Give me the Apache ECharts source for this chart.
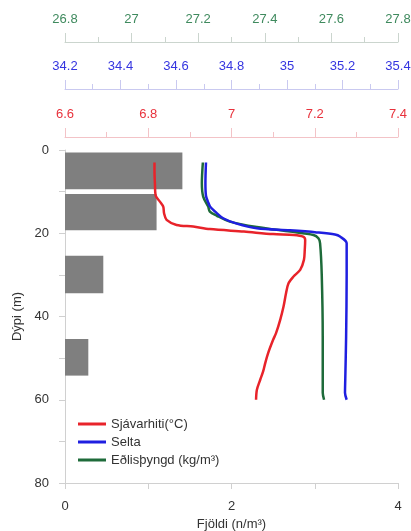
<!DOCTYPE html>
<html>
<head>
<meta charset="utf-8">
<script src="https://cdn.jsdelivr.net/npm/echarts@6/dist/echarts.min.js"></script>
<style>
  html, body { margin: 0; padding: 0; background: #fff; }
  #chart { width: 411px; height: 531px; }
</style>
</head>
<body>
<div id="chart"></div>
<script>
// Fjöldi per depth layer: [count, top depth, bottom depth]
const barValues = [1.41, 1.10, 0.46, 0.28]
const barTop = [0.6, 10.6, 25.4, 45.4]
const barBottom = [9.4, 19.3, 34.4, 54.2]

// Sjávarhiti (°C)
const tempDepth = [3, 5, 8, 11, 12.4, 13.6, 15.2, 16.8, 18.0, 18.4, 19.0, 19.6, 20.2, 20.4, 20.8, 21.6, 24, 26.4, 28.8, 30.4, 32.0, 34.4, 37.6, 40.8, 44.0, 45.6, 48.8, 51.2, 53.2, 55.2, 57.6, 60]
const tempValues = [6.815, 6.815, 6.816, 6.818, 6.828, 6.836, 6.838, 6.844, 6.868, 6.908, 6.948, 7.03, 7.10, 7.15, 7.172, 7.177, 7.176, 7.174, 7.165, 7.149, 7.137, 7.131, 7.125, 7.117, 7.107, 7.100, 7.088, 7.081, 7.076, 7.069, 7.061, 7.059]

// Selta
const salDepth = [3, 8, 11, 12.4, 13.6, 14.8, 16.4, 17.7, 18.8, 19.3, 19.8, 20.3, 20.8, 22.4, 30, 45, 55, 58.3, 60]
const salValues = [34.708, 34.706, 34.708, 34.715, 34.723, 34.741, 34.770, 34.819, 34.891, 35.011, 35.107, 35.173, 35.191, 35.215, 35.215, 35.213, 35.210, 35.209, 35.215]

// Eðlisþyngd (kg/m3)
const densDepth = [3, 8, 11.2, 13.6, 14.8, 15.8, 17.2, 18.5, 19.6, 20.4, 21.2, 22.4, 30, 45, 58.3, 60]
const densValues = [27.214, 27.211, 27.215, 27.230, 27.235, 27.256, 27.295, 27.376, 27.476, 27.546, 27.561, 27.566, 27.571, 27.574, 27.574, 27.578]

const depthTicks = [0, 20, 40, 60, 80]
const countTicks = [0, 2, 4]

const font = '"Liberation Sans", Arial, sans-serif'
const red = '#e8232a'
const blue = '#1f1fe0'
const green = '#1e6b3a'

const chart = echarts.init(document.getElementById('chart'))

const pair = (xs, ys) => xs.map((x, i) => [x, ys[i]])

const topAxis = (min, max, offset, textColor, lineColor) => ({
  type: 'value',
  position: 'top',
  min: min,
  max: max,
  interval: 0.2,
  offset: offset,
  axisLine: { show: true, onZero: false, lineStyle: { color: lineColor, width: 1 } },
  axisTick: { show: true, length: 9, lineStyle: { color: lineColor } },
  minorTick: { show: true, splitNumber: 2, length: 5, lineStyle: { color: lineColor } },
  splitLine: { show: false },
  axisLabel: {
    color: textColor, fontSize: 13, fontFamily: font, margin: 16,
    formatter: v => String(parseFloat(v.toFixed(2)))
  }
})

const option = {
  backgroundColor: '#fff',
  animation: false,
  grid: { left: 65, right: 13, top: 150, bottom: 48, containLabel: false, outerBoundsMode: 'none' },
  xAxis: [
    {
      type: 'value',
      position: 'bottom',
      min: 0,
      max: 4,
      interval: 1,
      name: 'Fjöldi (n/m³)',
      nameLocation: 'middle',
      nameGap: 34,
      nameTextStyle: { color: '#333', fontSize: 13, fontFamily: font },
      axisLine: { show: true, onZero: false, lineStyle: { color: '#d0d0d0' } },
      axisTick: { show: true, length: 6, lineStyle: { color: '#d0d0d0' } },
      splitLine: { show: false },
      axisLabel: {
        color: '#333', fontSize: 13, fontFamily: font, margin: 17,
        formatter: v => countTicks.includes(v) ? String(v) : ''
      }
    },
    topAxis(6.6, 7.4, 13, '#e8323c', '#f3c3c7'),
    topAxis(34.2, 35.4, 61, '#3535e0', '#c9c9f0'),
    topAxis(26.8, 27.8, 108, '#3f8a5e', '#cbd5ce')
  ],
  yAxis: {
    type: 'value',
    inverse: true,
    min: 0,
    max: 80,
    interval: 10,
    name: 'Dýpi (m)',
    nameLocation: 'middle',
    nameGap: 38,
    nameTextStyle: { color: '#333', fontSize: 13, fontFamily: font },
    axisLine: { show: true, onZero: false, lineStyle: { color: '#d0d0d0' } },
    axisTick: { show: true, length: 6, lineStyle: { color: '#d0d0d0' } },
    splitLine: { show: false },
    axisLabel: {
      color: '#333', fontSize: 13, fontFamily: font, margin: 16,
      formatter: v => depthTicks.includes(v) ? String(v) : ''
    }
  },
  legend: {
    orient: 'vertical',
    left: 73,
    top: 412,
    icon: 'rect',
    itemWidth: 28,
    itemHeight: 3,
    itemGap: 4,
    textStyle: { color: '#333', fontSize: 13, fontFamily: font, lineHeight: 14 },
    data: ['Sjávarhiti(°C)', 'Selta', 'Eðlisþyngd (kg/m³)']
  },
  series: [
    {
      type: 'custom',
      name: 'Fjöldi',
      xAxisIndex: 0,
      data: barValues.map((v, i) => [v, barTop[i], barBottom[i]]),
      encode: { x: 0, y: [1, 2] },
      renderItem: (params, api) => {
        const p0 = api.coord([0, api.value(1)])
        const p1 = api.coord([api.value(0), api.value(2)])
        return {
          type: 'rect',
          shape: { x: p0[0], y: p0[1], width: p1[0] - p0[0], height: p1[1] - p0[1] },
          style: { fill: '#7f7f7f' }
        }
      },
      z: 1
    },
    {
      type: 'line',
      name: 'Eðlisþyngd (kg/m³)',
      xAxisIndex: 3,
      data: pair(densValues, densDepth),
      showSymbol: false,
      smooth: 0.3,
      color: green,
      lineStyle: { color: green, width: 2.5 },
      z: 3
    },
    {
      type: 'line',
      name: 'Selta',
      xAxisIndex: 2,
      data: pair(salValues, salDepth),
      showSymbol: false,
      smooth: 0.3,
      color: blue,
      lineStyle: { color: blue, width: 2.5 },
      z: 4
    },
    {
      type: 'line',
      name: 'Sjávarhiti(°C)',
      xAxisIndex: 1,
      data: pair(tempValues, tempDepth),
      showSymbol: false,
      smooth: 0.3,
      color: red,
      lineStyle: { color: red, width: 2.5 },
      z: 5
    }
  ]
}

chart.setOption(option)
</script>
</body>
</html>
